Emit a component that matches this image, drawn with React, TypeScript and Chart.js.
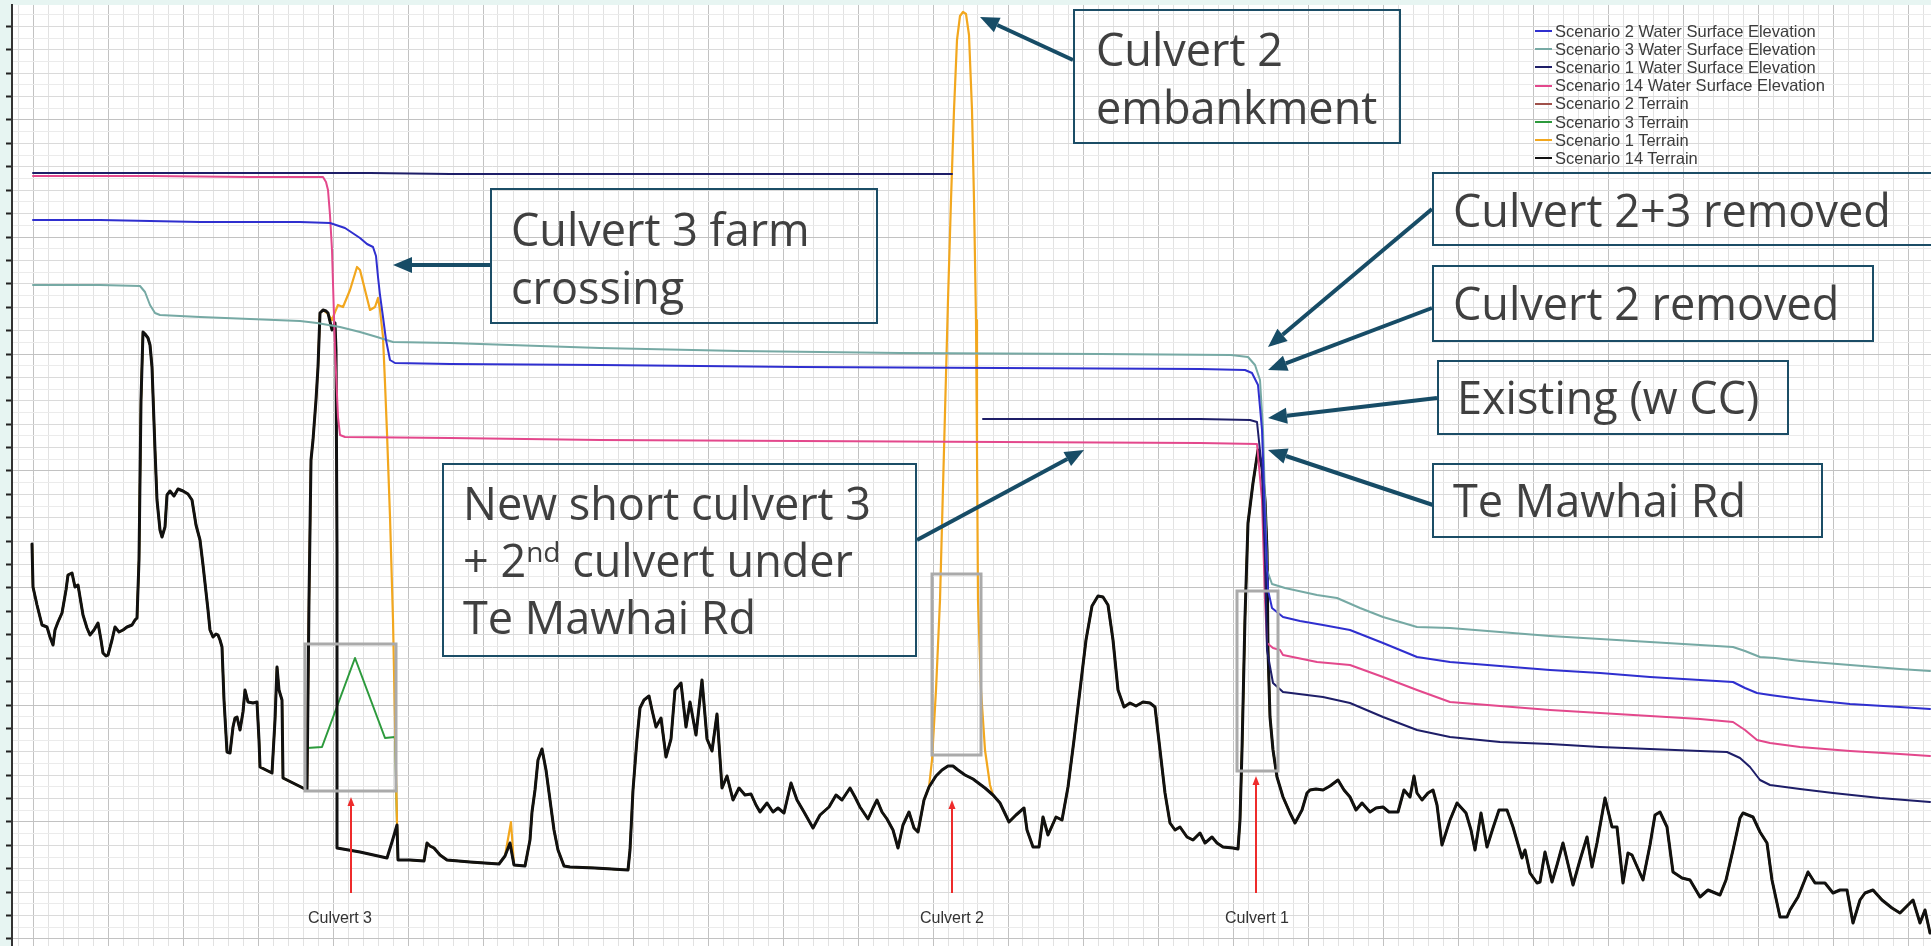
import React, { useEffect, useRef } from "react";
import { Chart, registerables } from "chart.js";
Chart.register(...registerables);

const W = 1931;
const H = 946;

// ---- Series names / colours (legend order) ----
const seriesNames = [
  "Scenario 2 Water Surface Elevation",
  "Scenario 3 Water Surface Elevation",
  "Scenario 1 Water Surface Elevation",
  "Scenario 14 Water Surface Elevation",
  "Scenario 2 Terrain",
  "Scenario 3 Terrain",
  "Scenario 1 Terrain",
  "Scenario 14 Terrain",
];
const seriesColors = ["#2f2fcf", "#76a9a4", "#1e1e68", "#e3488c", "#a0504a", "#2c9a3c", "#f2a71e", "#111111"];

// ---- Scenario 14 terrain (chainage, elevation) ----
const terrainX = [32,33,37,42,47,50,53,55,58,62,66,68,72,75,78,83,87,90,94,98,101,103,106,108,112,115,119,123,127,132,135,137,139,140,141,143,145,148,150,152,155,157,160,162,165,167,170,174,178,183,188,192,196,200,203,205,208,210,213,216,218,220,222,224,227,230,233,235,237,240,243,245,248,253,257,259,260,266,272,275,277,279,282,283,293,303,307,309,311,313,316,318,320,323,326,328,332,335,336,337,337,360,387,392,397,398,410,424,427,430,434,440,447,470,499,505,510,514,525,530,532,535,538,542,546,550,554,558,564,570,595,628,630,633,637,640,644,649,652,656,661,666,671,675,681,686,690,696,702,707,712,717,722,727,733,739,745,751,756,760,767,773,778,784,791,797,804,813,820,829,836,842,850,855,860,868,873,877,882,887,893,898,903,909,914,918,924,929,936,942,948,953,958,965,973,985,993,1000,1009,1016,1024,1027,1033,1039,1043,1048,1052,1056,1062,1068,1074,1080,1086,1092,1098,1103,1108,1113,1118,1124,1130,1136,1143,1150,1155,1160,1165,1170,1175,1180,1187,1193,1200,1205,1212,1217,1223,1233,1238,1240,1242,1245,1248,1253,1258,1262,1265,1267,1268,1270,1273,1277,1283,1290,1295,1302,1307,1310,1316,1323,1330,1338,1344,1350,1356,1362,1370,1376,1383,1389,1398,1404,1410,1414,1417,1422,1428,1433,1437,1442,1450,1457,1466,1471,1475,1481,1487,1493,1499,1507,1513,1522,1525,1530,1537,1540,1545,1552,1557,1563,1573,1580,1587,1592,1597,1605,1612,1617,1623,1628,1632,1643,1650,1655,1660,1667,1673,1682,1690,1700,1708,1720,1726,1733,1740,1743,1753,1760,1767,1772,1780,1787,1790,1798,1808,1815,1825,1833,1840,1847,1853,1860,1865,1873,1882,1892,1900,1908,1913,1920,1925,1930];
const terrainY = [45.6,41.3,39.5,37.5,37.3,36.3,35.5,37.0,37.8,38.7,41.0,42.5,42.7,41.3,41.5,38.5,37.2,36.5,37.0,37.7,36.0,34.7,34.4,34.5,36.0,37.3,36.8,37.0,37.3,37.5,38.0,38.2,44.0,52.0,60.0,66.8,66.6,66.2,65.5,63.3,55.0,50.0,47.0,46.3,47.3,50.5,50.9,50.4,51.1,50.9,50.6,50.0,47.5,46.0,43.5,41.7,39.0,37.0,36.3,36.6,36.5,36.0,35.3,30.0,24.8,24.7,27.3,28.2,28.3,27.0,28.8,31.0,29.8,29.7,29.8,26.0,23.3,23.0,22.7,28.0,33.3,31.0,30.0,22.2,21.7,21.2,21.0,40.0,54.0,56.0,60.0,63.3,68.7,69.0,68.9,68.7,67.0,67.7,65.0,45.0,15.2,14.8,14.2,15.8,17.5,14.0,14.0,13.9,15.7,15.4,15.2,14.5,14.0,13.8,13.6,14.4,15.7,13.5,13.4,16.0,18.8,21.0,24.0,25.1,23.0,20.0,17.0,15.0,13.4,13.3,13.2,13.0,15.0,21.0,26.1,29.2,30.0,30.4,29.0,27.3,28.2,24.3,26.1,31.0,31.7,27.3,29.8,26.5,32.0,26.1,24.9,28.6,21.2,22.4,20.0,21.2,20.5,20.6,19.5,18.8,19.7,18.8,19.2,18.7,21.7,20.0,18.8,17.2,18.5,19.3,20.5,20.0,21.2,20.3,19.3,18.1,19.2,20.0,18.8,18.1,17.0,15.2,17.5,18.8,17.2,16.8,20.0,21.3,22.4,23.0,23.4,23.4,23.0,22.5,22.1,21.2,20.5,19.7,17.8,18.5,19.2,17.0,15.3,15.3,18.3,16.5,17.4,18.3,18.0,21.3,26.0,31.0,36.0,39.4,40.4,40.3,39.5,36.0,31.0,29.3,29.7,29.4,29.8,29.7,29.3,25.0,20.7,17.7,17.0,17.3,16.3,16.0,16.7,15.7,16.3,15.7,15.3,15.2,15.1,18.0,25.0,38.3,47.7,51.7,55.0,53.3,50.0,45.0,35.0,28.3,25.0,22.3,20.3,18.7,17.7,19.0,20.7,21.0,21.1,21.0,21.4,22.0,21.0,20.3,19.0,19.7,18.8,19.2,19.3,18.8,18.8,21.0,20.3,22.4,20.7,20.0,20.7,21.0,19.5,15.5,18.0,19.7,18.7,17.0,15.0,18.7,15.3,17.2,19.0,19.0,17.3,14.2,15.0,12.7,11.7,11.8,14.8,11.8,13.5,15.7,11.5,14.0,16.3,13.3,15.7,20.2,17.3,17.3,11.7,14.7,14.5,12.0,15.5,18.5,18.8,17.3,12.8,12.2,12.0,10.3,11.0,10.5,12.0,15.0,18.2,18.7,18.3,16.8,15.7,12.0,8.3,8.3,9.0,10.3,12.8,11.7,11.7,10.7,11.0,11.0,7.7,10.0,10.7,11.0,10.0,9.2,8.7,9.5,10.0,7.7,9.0,6.7];

// ---- Scenario 1 terrain: stretches where it differs from Scenario 14 ----
const s1Culv3X = [328,332,335,338,343,350,357,360,365,370,375,378,380,383,385,387,390,393,395,397];
const s1Culv3Y = [68.6,68.0,68.8,69.5,69.3,71.0,73.3,73.0,71.0,69.0,69.3,70.2,69.0,66.3,61.7,56.7,48.3,38.0,28.0,17.7];
const s1KnickX = [511];
const s1KnickY = [17.8];
const s1EmbX = [932,936,940,944,948,951,954,957,960,963,966,969,972,974,976,977,978,981,985,990];
const s1EmbY = [24.0,31.0,40.0,55.0,70.0,80.0,89.0,96.0,98.4,98.8,98.6,96.5,89.0,80.0,68.0,55.0,40.0,31.0,25.0,21.5];

// ---- Scenario 3 terrain: stretch at culvert 3 ----
const s3Culv3X = [307,322,355,385,395];
const s3Culv3Y = [25.2,25.3,34.2,26.2,26.3];

// ---- Water surface elevations ----
const wse2X = [33,100,150,200,250,300,330,345,360,367,373,376,378,380,383,386,390,395,450,600,800,1000,1200,1245,1252,1258,1262,1265,1268,1272,1283,1300,1323,1350,1383,1417,1450,1500,1550,1600,1650,1700,1733,1745,1757,1770,1800,1850,1900,1930];
const wse2Y = [78.0,78.0,77.9,77.8,77.8,77.8,77.7,77.2,76.2,75.6,75.3,74.4,72.3,70.5,68.3,66.0,64.0,63.7,63.6,63.5,63.3,63.2,63.1,63.0,62.7,61.5,57.0,48.0,41.0,39.2,38.3,37.9,37.5,37.0,35.7,34.3,33.8,33.4,33.0,32.7,32.3,32.0,31.8,31.2,30.7,30.5,30.1,29.6,29.3,29.1];

const wse3X = [33,100,140,145,150,155,160,200,250,300,317,340,360,377,393,450,600,739,900,1100,1231,1248,1255,1260,1263,1265,1267,1272,1285,1317,1337,1360,1383,1417,1450,1500,1550,1600,1650,1700,1733,1745,1760,1775,1800,1850,1900,1930];
const wse3Y = [71.5,71.5,71.4,70.8,69.5,68.7,68.5,68.3,68.1,67.9,67.7,67.3,66.8,66.3,65.8,65.7,65.2,64.9,64.7,64.6,64.5,64.3,63.5,62.0,57.0,50.0,43.0,41.6,41.2,40.5,40.2,39.2,38.3,37.3,37.2,36.8,36.4,36.1,35.8,35.5,35.3,34.9,34.3,34.2,33.9,33.5,33.1,32.9];

const wse1X = [33,150,300,370,450,600,800,952,967,983,1100,1200,1250,1257,1262,1265,1267,1273,1283,1323,1350,1383,1417,1450,1500,1550,1600,1650,1700,1727,1740,1750,1760,1770,1800,1833,1880,1930];
const wse1Y = [82.7,82.7,82.7,82.7,82.6,82.6,82.6,82.6,null,58.1,58.1,58.1,58.0,57.8,53.0,44.0,35.0,31.7,30.8,30.3,29.7,28.3,27.0,26.3,25.8,25.6,25.3,25.1,24.9,24.8,24.2,23.3,22.0,21.5,21.1,20.7,20.2,19.8];

const wse14X = [33,150,250,323,326,328,330,332,335,338,340,345,450,600,800,1000,1200,1257,1262,1265,1267,1273,1280,1283,1317,1350,1383,1417,1450,1500,1550,1600,1650,1700,1733,1745,1757,1770,1800,1850,1900,1930];
const wse14Y = [82.4,82.4,82.3,82.3,81.8,81.0,78.5,75.0,65.0,58.3,56.5,56.3,56.2,56.0,55.9,55.8,55.7,55.6,50.0,40.0,35.7,35.2,35.0,34.5,33.8,33.5,32.3,31.0,29.8,29.4,29.0,28.7,28.4,28.1,27.8,27.0,26.0,25.7,25.3,24.9,24.6,24.4];

// ---- Culvert markers ----
const culvertNames = ["Culvert 3", "Culvert 2", "Culvert 1"];
const culvertChainage = [351, 952, 1256];
const culvertLabelAt = [340, 952, 1257];
const culvertArrowTop = [20.3, 20.0, 22.4];
// gray boxes: x1, x2, elevation top, elevation bottom
const boxX1 = [305, 932, 1237];
const boxX2 = [396, 981, 1278];
const boxTop = [35.6, 42.6, 40.9];
const boxBottom = [20.9, 24.5, 22.9];

// axis extents
const X_MIN = 12, X_MAX = 1931, Y_MIN = 5.4, Y_MAX = 99.5;

type P = { x: number; y: number | null };
const toPts = (xs: number[], ys: (number | null)[]): P[] => xs.map((x, i) => ({ x, y: ys[i] }));
function patch(base: P[], lo: number, hi: number, px: number[], py: number[]): P[] {
  const out: P[] = [];
  let done = false;
  const ins = () => { px.forEach((x, j) => out.push({ x, y: py[j] })); done = true; };
  for (const p of base) {
    if (p.x > lo && p.x < hi) { if (!done) ins(); continue; }
    if (p.x >= hi && !done) ins();
    out.push(p);
  }
  return out;
}

const xGrid: number[] = [];
for (let v = 18; v <= 1925; v += 15) xGrid.push(v);
const yGrid: number[] = [];
for (let k = -9; k <= 70; k++) yGrid.push(88 - 1.17 * k);
const yK = (v: number) => Math.round((88 - v) / 1.17);

function arrow(ctx: CanvasRenderingContext2D, x1: number, y1: number, x2: number, y2: number, color: string, lw: number, hl: number, hw: number) {
  const a = Math.atan2(y2 - y1, x2 - x1);
  const bx = x2 - hl * Math.cos(a), by = y2 - hl * Math.sin(a);
  ctx.strokeStyle = color; ctx.lineWidth = lw; ctx.lineCap = "butt";
  ctx.beginPath(); ctx.moveTo(x1, y1); ctx.lineTo(bx, by); ctx.stroke();
  ctx.fillStyle = color;
  ctx.beginPath(); ctx.moveTo(x2, y2);
  ctx.lineTo(bx + (hw / 2) * Math.sin(a), by - (hw / 2) * Math.cos(a));
  ctx.lineTo(bx - (hw / 2) * Math.sin(a), by + (hw / 2) * Math.cos(a));
  ctx.closePath(); ctx.fill();
}

// annotation arrows: tail (chainage, elev) -> head (chainage, elev)
const noteArrows = [
  [1073, 94.0, 980, 98.3],
  [490, 73.5, 393, 73.5],
  [1432, 79.1, 1268, 65.3],
  [1432, 69.2, 1268, 63.0],
  [1437, 60.2, 1268, 58.2],
  [1433, 49.5, 1268, 55.0],
  [917, 46.0, 1084, 55.0],
];

const overlayPlugin = {
  id: "overlay",
  beforeDraw(chart: any) {
    const { ctx, chartArea: a } = chart;
    ctx.save(); ctx.fillStyle = "#ffffff";
    ctx.fillRect(a.left, a.top, a.right - a.left, a.bottom - a.top);
    ctx.restore();
  },
  afterDatasetsDraw(chart: any) {
    const { ctx } = chart;
    const xs = chart.scales.x, ys = chart.scales.y;
    const X = (v: number) => xs.getPixelForValue(v), Y = (v: number) => ys.getPixelForValue(v);
    ctx.save();
    ctx.strokeStyle = "#aaaaaa"; ctx.lineWidth = 3;
    for (let i = 0; i < boxX1.length; i++) {
      ctx.strokeRect(X(boxX1[i]), Y(boxTop[i]), X(boxX2[i]) - X(boxX1[i]), Y(boxBottom[i]) - Y(boxTop[i]));
    }
    for (let i = 0; i < culvertChainage.length; i++) {
      arrow(ctx, X(culvertChainage[i]), Y(10.7), X(culvertChainage[i]), Y(culvertArrowTop[i]), "#ee2b2b", 2, 9, 7);
    }
    for (const [a, b, c, d] of noteArrows) arrow(ctx, X(a), Y(b), X(c), Y(d), "#174c66", 4, 19, 16);
    ctx.restore();
  },
};

const notes = [
  { box: [1073, 9, 1401, 144], lines: [["Culvert 2", 1096, 49], ["embankment", 1096, 107]] },
  { box: [490, 188, 878, 324], lines: [["Culvert 3 farm", 511, 229], ["crossing", 511, 287]] },
  { box: [1432, 172, 1945, 246], lines: [["Culvert 2+3 removed", 1453, 210]] },
  { box: [1432, 265, 1874, 342], lines: [["Culvert 2 removed", 1453, 303]] },
  { box: [1437, 360, 1789, 435], lines: [["Existing (w CC)", 1457, 397]] },
  { box: [1432, 463, 1823, 538], lines: [["Te Mawhai Rd", 1453, 500]] },
  { box: [442, 463, 917, 657], lines: [["New short culvert 3", 463, 503], ["SUP", 463, 560], ["Te Mawhai Rd", 463, 617]] },
];

export default function App() {
  const ref = useRef<HTMLCanvasElement>(null);
  useEffect(() => {
    const s14 = toPts(terrainX, terrainY);
    let s1 = patch(s14, 323, 398, s1Culv3X, s1Culv3Y);
    s1 = patch(s1, 505, 514, s1KnickX, s1KnickY);
    s1 = patch(s1, 929, 993, s1EmbX, s1EmbY);
    const s3 = patch(s14, 307, 397, s3Culv3X, s3Culv3Y);
    const ds = (i: number, data: P[], w: number) => ({
      label: seriesNames[i], data, borderColor: seriesColors[i], backgroundColor: seriesColors[i],
      borderWidth: w, pointRadius: 0, tension: 0, fill: false, spanGaps: false,
      borderJoinStyle: "round", borderCapStyle: "round",
    });
    const chart = new Chart(ref.current!, {
      type: "line",
      data: {
        datasets: [
          ds(0, toPts(wse2X, wse2Y), 2),
          ds(1, toPts(wse3X, wse3Y), 2),
          ds(2, toPts(wse1X, wse1Y), 2),
          ds(3, toPts(wse14X, wse14Y), 2),
          ds(7, s14, 3),
          ds(6, s1, 2.2),
          ds(5, s3, 2),
          ds(4, toPts(terrainX, terrainY), 2),
        ] as any,
      },
      options: {
        animation: false,
        responsive: false,
        devicePixelRatio: 1,
        events: [],
        layout: { padding: { left: 6, top: 5, right: 0, bottom: 0 } },
        plugins: { legend: { display: false }, tooltip: { enabled: false } },
        scales: {
          x: {
            type: "linear", min: X_MIN, max: X_MAX,
            afterBuildTicks: (s: any) => { s.ticks = xGrid.map((v) => ({ value: v })); },
            ticks: { display: false, autoSkip: false },
            grid: { drawTicks: false, lineWidth: 1, color: (c: any) => ((c.tick.value - 33) % 75 === 0 ? "#c2c2c2" : "#e2e2e2") },
            border: { display: false },
          },
          y: {
            type: "linear", min: Y_MIN, max: Y_MAX,
            afterBuildTicks: (s: any) => { s.ticks = yGrid.map((v) => ({ value: v })); },
            ticks: { display: false, autoSkip: false },
            grid: {
              drawTicks: true, tickLength: 6, tickWidth: 2, lineWidth: 1,
              color: (c: any) => { const k = yK(c.tick.value); return k % 10 === 0 ? "#c2c2c2" : k % 2 === 0 ? "#dadada" : "#ebebeb"; },
              tickColor: (c: any) => (yK(c.tick.value) % 2 === 0 ? "#222222" : "rgba(0,0,0,0)"),
            },
            border: { display: true, color: "#333333", width: 2 },
          },
        },
      } as any,
      plugins: [overlayPlugin],
    });
    return () => chart.destroy();
  }, []);

  const noteFont = { fontFamily: '"Open Sans", "Noto Sans", sans-serif', fontSize: 45, color: "#404040", lineHeight: "58px" };
  return (
    <div style={{ position: "fixed", left: 0, top: 0, width: W, height: H, background: "#e7f5f2", overflow: "hidden" }}>
      <canvas ref={ref} width={W} height={H} style={{ position: "absolute", left: 0, top: 0, width: W, height: H }} />
      <div style={{ position: "absolute", left: 0, top: 0, width: W, height: H, pointerEvents: "none" }}>
        {seriesNames.map((n, i) => (
          <div key={n} style={{ position: "absolute", left: 1535, top: 22 + i * 18.2, height: 18, display: "flex", alignItems: "center", fontFamily: '"Liberation Sans", Arial, sans-serif', fontSize: 16.5, color: "#3c3c3c", whiteSpace: "nowrap" }}>
            <span style={{ display: "inline-block", width: 17, height: 2, background: seriesColors[i], marginRight: 3 }} />
            {n}
          </div>
        ))}
        {culvertNames.map((n, i) => (
          <div key={n} style={{ position: "absolute", left: culvertLabelAt[i] - 60, width: 120, top: 908, lineHeight: "20px", textAlign: "center", fontFamily: '"Liberation Sans", Arial, sans-serif', fontSize: 16, color: "#333" }}>{n}</div>
        ))}
        {notes.map((nt, i) => (
          <React.Fragment key={i}>
            <div style={{ position: "absolute", left: nt.box[0], top: nt.box[1], width: nt.box[2] - nt.box[0], height: nt.box[3] - nt.box[1], border: "2px solid #1b4d66", boxSizing: "border-box" }} />
            {nt.lines.map(([t, x, y], j) => (
              <div key={j} style={{ position: "absolute", left: x as number, top: (y as number) - 29, whiteSpace: "nowrap", ...noteFont }}>
                {t === "SUP" ? (<span>+ 2<sup style={{ fontSize: 28, verticalAlign: "top", lineHeight: "40px" }}>nd</sup> culvert under</span>) : t}
              </div>
            ))}
          </React.Fragment>
        ))}
      </div>
    </div>
  );
}
